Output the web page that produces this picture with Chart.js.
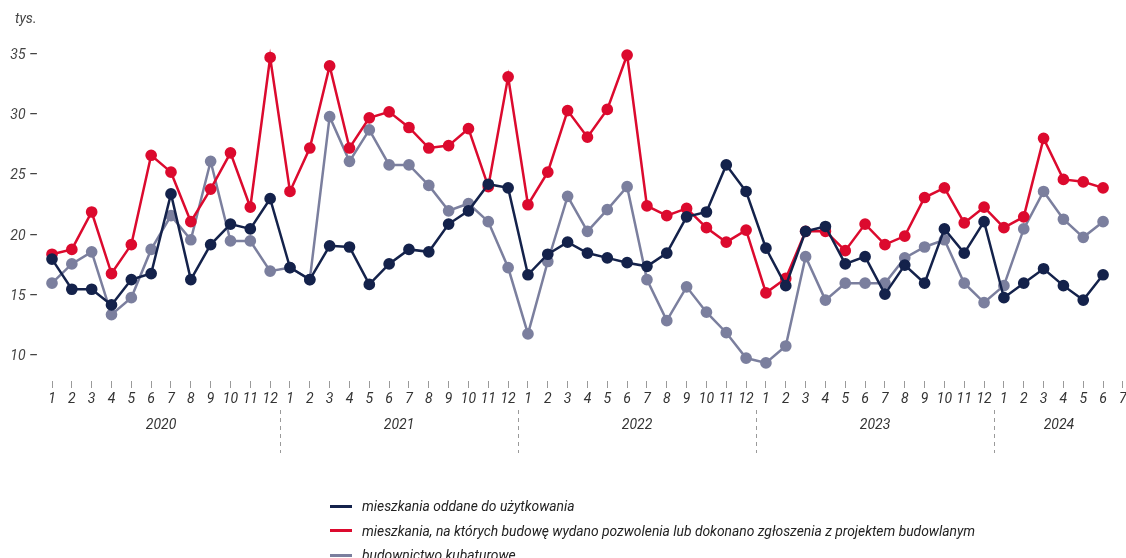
<!DOCTYPE html>
<html>
<head>
<meta charset="utf-8">
<script src="https://cdn.jsdelivr.net/npm/chart.js@4.4.1/dist/chart.umd.min.js"></script>
<style>
  html, body { margin: 0; padding: 0; background: #fff; overflow: hidden; }
  #wrap { position: relative; width: 1126px; height: 558px; overflow: hidden; }
  #c { position: absolute; left: 0; top: 0; }
  .unit { position: absolute; left: 15px; top: 10px; font: italic 14px Roboto, sans-serif; color: #444; }
  .legend { position: absolute; left: 330px; top: 494px; font: italic 13.85px Roboto, sans-serif; color: #222; }
  .legend div { height: 24.5px; line-height: 20px; display: flex; align-items: center; }
  .legend span.sw { display: inline-block; width: 22px; height: 3px; margin-right: 10px; }
</style>
</head>
<body>
<div id="wrap">
  <canvas id="c" width="1130" height="558"></canvas>
  <div class="unit">tys.</div>
  <div class="legend" id="legend"></div>
</div>
<script>
// ---- data ----
const years = ['2020', '2021', '2022', '2023', '2024'];
const monthsPerYear = [12, 12, 12, 12, 7];
const yTicks = [10, 15, 20, 25, 30, 35];

const seriesNames = [
  'mieszkania oddane do użytkowania',
  'mieszkania, na których budowę wydano pozwolenia lub dokonano zgłoszenia z projektem budowlanym',
  'budownictwo kubaturowe'
];

const oddane2020 = [18.1, 15.6, 15.6, 14.3, 16.4, 16.9, 23.5, 16.4, 19.3, 21.0, 20.6, 23.1];
const oddane2021 = [17.4, 16.4, 19.2, 19.1, 16.0, 17.7, 18.9, 18.7, 21.0, 22.1, 24.3, 24.0];
const oddane2022 = [16.8, 18.5, 19.5, 18.6, 18.2, 17.8, 17.5, 18.6, 21.6, 22.0, 25.9, 23.7];
const oddane2023 = [19.0, 15.9, 20.4, 20.8, 17.7, 18.3, 15.2, 17.6, 16.1, 20.6, 18.6, 21.2];
const oddane2024 = [14.9, 16.1, 17.3, 15.9, 14.7, 16.8, null];

const pozwolenia2020 = [18.5, 18.9, 22.0, 16.9, 19.3, 26.7, 25.3, 21.2, 23.9, 26.9, 22.4, 34.8];
const pozwolenia2021 = [23.7, 27.3, 34.1, 27.3, 29.8, 30.3, 29.0, 27.3, 27.5, 28.9, 24.1, 33.2];
const pozwolenia2022 = [22.6, 25.3, 30.4, 28.2, 30.5, 35.0, 22.5, 21.7, 22.3, 20.7, 19.5, 20.5];
const pozwolenia2023 = [15.3, 16.5, 20.4, 20.4, 18.8, 21.0, 19.3, 20.0, 23.2, 24.0, 21.1, 22.4];
const pozwolenia2024 = [20.7, 21.6, 28.1, 24.7, 24.5, 24.0, null];

const kubaturowe2020 = [16.1, 17.7, 18.7, 13.5, 14.9, 18.9, 21.7, 19.7, 26.2, 19.6, 19.6, 17.1];
const kubaturowe2021 = [17.4, 16.4, 29.9, 26.2, 28.8, 25.9, 25.9, 24.2, 22.1, 22.7, 21.2, 17.4];
const kubaturowe2022 = [11.9, 17.9, 23.3, 20.4, 22.2, 24.1, 16.4, 13.0, 15.8, 13.7, 12.0, 9.9];
const kubaturowe2023 = [9.5, 10.9, 18.3, 14.7, 16.1, 16.1, 16.1, 18.2, 19.1, 19.7, 16.1, 14.5];
const kubaturowe2024 = [15.9, 20.6, 23.7, 21.4, 19.9, 21.2, null];

const colors = ['#14224b', '#dc0a2e', '#7b7f9e'];

// ---- build ----
const labels = [];
monthsPerYear.forEach(n => { for (let m = 1; m <= n; m++) labels.push(String(m)); });
const oddane = [].concat(oddane2020, oddane2021, oddane2022, oddane2023, oddane2024);
const pozwolenia = [].concat(pozwolenia2020, pozwolenia2021, pozwolenia2022, pozwolenia2023, pozwolenia2024);
const kubaturowe = [].concat(kubaturowe2020, kubaturowe2021, kubaturowe2022, kubaturowe2023, kubaturowe2024);

function ds(label, data, color) {
  return {
    label, data,
    borderColor: color, backgroundColor: color,
    pointBackgroundColor: color, pointBorderColor: color,
    borderWidth: 2.5, pointRadius: 4.6, pointHoverRadius: 4.6,
    tension: 0, spanGaps: false
  };
}

const yearPlugin = {
  id: 'years',
  afterDraw(chart) {
    const xs = chart.scales.x;
    const ctx = chart.ctx;
    ctx.save();
    let start = 0;
    monthsPerYear.forEach((n, i) => {
      const endIdx = start + n - 1;
      const lastData = i === monthsPerYear.length - 1 ? endIdx - 0.45 : endIdx;
      const cx = (xs.getPixelForValue(start) + xs.getPixelForValue(lastData)) / 2;
      ctx.font = 'italic 14px Roboto, sans-serif';
      ctx.fillStyle = '#333';
      ctx.textAlign = 'center';
      ctx.textBaseline = 'middle';
      ctx.fillText(years[i], cx, 425);
      if (i < monthsPerYear.length - 1) {
        const sx = Math.round((xs.getPixelForValue(endIdx) + xs.getPixelForValue(endIdx + 1)) / 2) + 0.5;
        ctx.strokeStyle = '#9a9a9a';
        ctx.lineWidth = 1;
        ctx.setLineDash([4, 4]);
        ctx.beginPath();
        ctx.moveTo(sx, 410);
        ctx.lineTo(sx, 453);
        ctx.stroke();
      }
      start += n;
    });
    ctx.restore();
  }
};

new Chart(document.getElementById('c'), {
  type: 'line',
  data: {
    labels,
    datasets: [
      ds(seriesNames[0], oddane, colors[0]),
      ds(seriesNames[1], pozwolenia, colors[1]),
      ds(seriesNames[2], kubaturowe, colors[2])
    ]
  },
  options: {
    responsive: false,
    animation: false,
    layout: { padding: { top: 43, right: 0, bottom: 150, left: 0 } },
    plugins: { legend: { display: false }, tooltip: { enabled: false } },
    scales: {
      x: {
        type: 'category',
        offset: false,
        grid: { display: true, drawOnChartArea: false, drawTicks: true, tickLength: 7, color: '#9a9a9a', lineWidth: 1 },
        border: { display: false },
        ticks: {
          autoSkip: false, maxRotation: 0, minRotation: 0, padding: 3,
          color: '#333', font: { family: 'Roboto', style: 'italic', size: 14 }
        },
        afterFit(scale) { scale.height = 27; }
      },
      y: {
        min: 8, max: 36,
        grid: { display: false, drawTicks: false },
        border: { display: false },
        afterBuildTicks(scale) { scale.ticks = yTicks.map(v => ({ value: v })); },
        ticks: {
          padding: 14,
          color: '#444',
          font: { family: 'Roboto', style: 'italic', size: 14 },
          callback: v => v + ' –'
        },
        afterFit(scale) { scale.width = 52; }
      }
    }
  },
  plugins: [yearPlugin]
});

const leg = document.getElementById('legend');
seriesNames.forEach((n, i) => {
  const d = document.createElement('div');
  const s = document.createElement('span');
  s.className = 'sw'; s.style.background = colors[i];
  d.appendChild(s);
  d.appendChild(document.createTextNode(n));
  leg.appendChild(d);
});
</script>
</body>
</html>
